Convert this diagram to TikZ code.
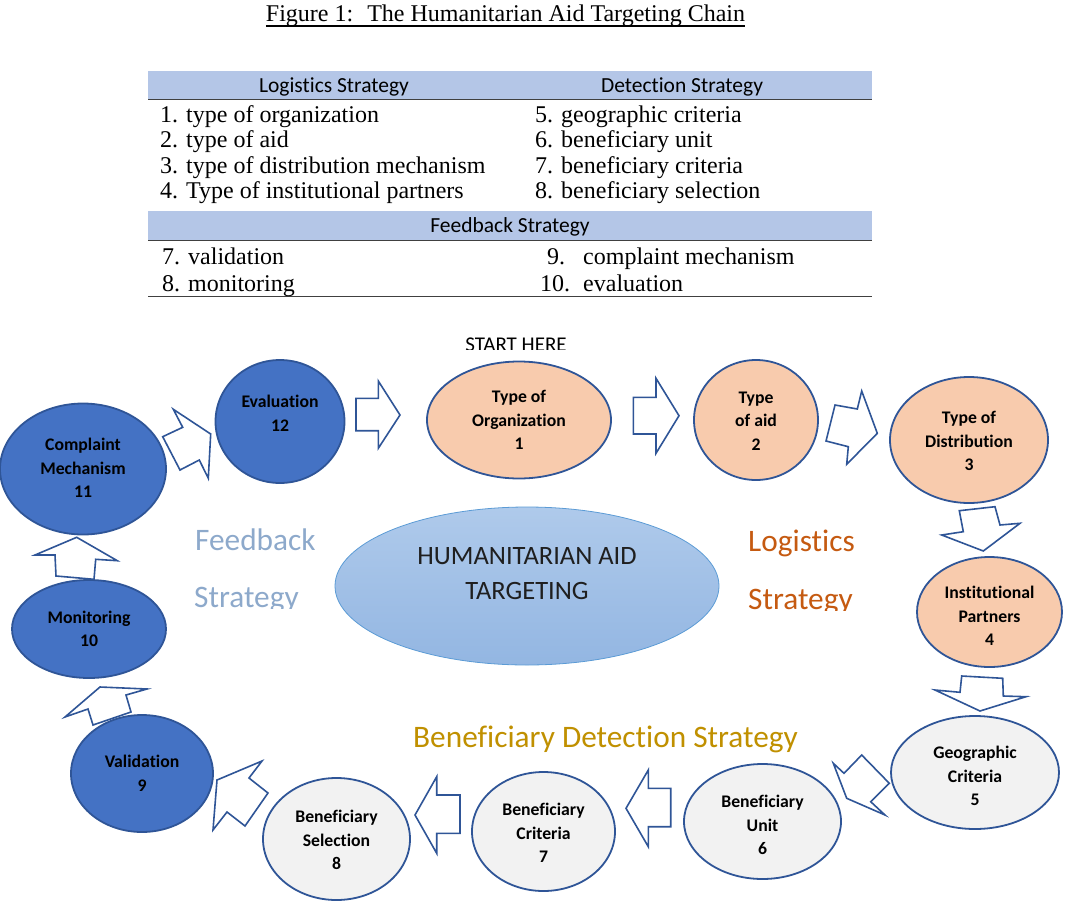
\documentclass[tikz,border=0pt]{standalone}
\usepackage{fontspec}
\setmainfont{Liberation Serif}
\newfontfamily\calfont[Ligatures=NoCommon]{Carlito}
\usetikzlibrary{shapes.geometric}
\definecolor{bord}{HTML}{2F5597}
\definecolor{orgF}{HTML}{F8CBAD}
\definecolor{bluF}{HTML}{4472C4}
\definecolor{gryF}{HTML}{F2F2F2}
\definecolor{hubT}{HTML}{AFCAEB}
\definecolor{hubB}{HTML}{93B6E2}
\definecolor{hubD}{HTML}{5B9BD5}
\definecolor{hdr}{HTML}{B4C6E7}
\definecolor{fbC}{HTML}{8DA9CB}
\definecolor{lgC}{HTML}{C55A11}
\definecolor{bdC}{HTML}{C09000}
\newcommand{\mkbub}[8]{%
  \node[#2, minimum width=#5pt, minimum height=#6pt] (#1) at (#3,#4) {};
  \node[ntext] (#1t) at (#3,#7) {#8};}
\tikzset{
  bub/.style={ellipse, draw=bord, line width=1.8pt, inner sep=0pt},
  orng/.style={bub, fill=orgF},
  blu/.style={bub, fill=bluF},
  gry/.style={bub, fill=gryF},
  ntext/.style={font=\calfont\bfseries\fontsize{17.7}{23.5}\selectfont, align=center, inner sep=0pt, text=black},
  barrow/.style={draw=bord, line width=1.6pt, fill=white, line join=miter},
  ttext/.style={font=\fontsize{24}{25}\selectfont, anchor=base west, inner sep=0pt},
  htext/.style={font=\calfont\fontsize{21.5}{24}\selectfont, anchor=base, inner sep=0pt},
  bigtext/.style={font=\calfont\fontsize{31.3}{36}\selectfont, anchor=base west, inner sep=0pt},
  tline/.style={draw=black!75, line width=1pt},
}
\begin{document}
\begin{tikzpicture}[x=1pt,y=-1pt]
\useasboundingbox (0,0) rectangle (1068,905);
% title
\node[font=\fontsize{24}{28}\selectfont, anchor=base, inner sep=0pt] (title) at (505.5,21) {Figure 1:~ The Humanitarian Aid Targeting Chain};
\draw[line width=1.3pt] ([yshift=-5pt]title.base west) -- ([yshift=-5pt]title.base east);
% table
\fill[hdr] (148,71) rectangle (872,99);
\draw[tline] (148,99) -- (872,99);
\fill[hdr] (148,211) rectangle (872,240);
\draw[tline] (148,240) -- (872,240);
\draw[tline] (148,296) -- (872,296);
\node[htext] (h1) at (334,92) {Logistics Strategy};
\node[htext] (h2) at (682,92) {Detection Strategy};
\node[htext] (h3) at (510,232) {Feedback Strategy};
\node[ttext] (r1) at (160,122) {1. type of organization};
\node[ttext] (r2) at (160,147) {2. type of aid};
\node[ttext] (r3) at (160,173) {3. type of distribution mechanism};
\node[ttext] (r4) at (160,198) {4. Type of institutional partners};
\node[ttext] (r5) at (535,122) {5. geographic criteria};
\node[ttext] (r6) at (535,147) {6. beneficiary unit};
\node[ttext] (r7) at (535,173) {7. beneficiary criteria};
\node[ttext] (r8) at (535,198) {8. beneficiary selection};
\node[ttext] (f1) at (162,264) {7. validation};
\node[ttext] (f2) at (162,291) {8. monitoring};
\node[ttext] (f3n) at (547,264) {9.};
\node[ttext] (f3) at (583,264) {complaint mechanism};
\node[ttext] (f4n) at (540,291) {10.};
\node[ttext] (f4) at (583,291) {evaluation};
% start here (clipped)
\begin{scope}
\clip (400,320) rectangle (640,349.5);
\node[font=\calfont\fontsize{21}{24}\selectfont, anchor=base, inner sep=0pt] (start) at (516,351) {START HERE};
\end{scope}
% strategy labels
\node[bigtext, text=fbC] (fb1) at (195,550) {Feedback};
\begin{scope}
\clip (180,570) rectangle (330,608.5);
\node[bigtext, text=fbC] (fb2) at (194,607) {Strategy};
\end{scope}
\node[bigtext, text=lgC] (lg1) at (748,551) {Logistics};
\begin{scope}
\clip (730,570) rectangle (880,610);
\node[bigtext, text=lgC] (lg2) at (748,609) {Strategy};
\end{scope}
\node[bigtext, text=bdC] (bd) at (413,747) {Beneficiary Detection Strategy};
% hub
\node[ellipse, minimum width=384pt, minimum height=158pt, top color=hubT, bottom color=hubB, draw=hubD, line width=0.8pt, inner sep=0pt] (hub) at (527,586) {};
\node[font=\calfont\fontsize{26.5}{35}\selectfont, anchor=base, inner sep=0pt, text=black!88] (hubt1) at (527,564) {HUMANITARIAN AID};
\node[font=\calfont\fontsize{26.5}{35}\selectfont, anchor=base, inner sep=0pt, text=black!88] (hubt2) at (527,599) {TARGETING};
% bubbles
\mkbub{n1}{orng}{519}{420}{184}{117}{420}{Type of\\Organization\\1}
\mkbub{n2}{orng}{756}{420}{124}{120}{421}{Type\\of aid\\2}
\mkbub{n3}{orng}{969}{440}{158}{126}{441}{Type of\\Distribution\\3}
\mkbub{n4}{orng}{989.5}{612}{145}{110}{616}{Institutional\\Partners\\4}
\mkbub{n5}{gry}{975}{772.5}{168}{113}{776}{Geographic\\Criteria\\5}
\mkbub{n6}{gry}{762.5}{821.5}{157}{115}{825}{Beneficiary\\Unit\\6}
\mkbub{n7}{gry}{543.5}{831.5}{143}{119}{833}{Beneficiary\\Criteria\\7}
\mkbub{n8}{gry}{336.5}{839}{147}{122}{840}{Beneficiary\\Selection\\8}
\mkbub{n9}{blu}{142}{773.5}{142}{117}{773.5}{Validation\\9}
\mkbub{n10}{blu}{89}{629}{154}{98}{629}{Monitoring\\10}
\mkbub{n11}{blu}{83}{469}{166}{131}{468}{Complaint\\Mechanism\\11}
\mkbub{n12}{blu}{280}{421.5}{129}{123}{413.5}{Evaluation\\12}
% block arrows
\draw[barrow] (356,398.3) -- (378.3,398.3) -- (378.3,381) -- (400,415) -- (378.3,448.3) -- (378.3,430.7) -- (356,430.7) -- cycle;
\draw[barrow] (633.3,397.3) -- (656,397.3) -- (656,378.3) -- (679,415.7) -- (656,453.3) -- (656,434) -- (633.3,434) -- cycle;
\draw[barrow] (835,405) -- (857.3,409) -- (861.7,391) -- (877.3,433.3) -- (846.7,464.3) -- (848.3,446.7) -- (826,441) -- cycle;
\draw[barrow] (959.3,510.7) -- (995,506.7) -- (1000,525) -- (1020,523.3) -- (983.3,551) -- (941.7,535) -- (963.3,531.7) -- cycle;
\draw[barrow] (961.7,676) -- (1002.7,678.3) -- (1003.3,696) -- (1026,696.7) -- (980,711) -- (935,690) -- (960,692.3) -- cycle;
\draw[barrow] (833.3,763.3) -- (844,773.3) -- (861.7,755) -- (889.3,783.3) -- (870.7,801.7) -- (885,815) -- (846.7,798.3) -- cycle;
\draw[barrow] (626,808.3) -- (648.3,770) -- (648.3,788.3) -- (670.7,788.3) -- (670.7,826.7) -- (648.3,826.7) -- (648.3,846.7) -- cycle;
\draw[barrow] (415,815) -- (436.7,776.7) -- (436.7,795) -- (460,795) -- (460,833.3) -- (436.7,833.3) -- (436.7,853.3) -- cycle;
\draw[barrow] (213,830) -- (217,780) -- (262,761) -- (249,778) -- (268,793) -- (245,826) -- (227,812) -- cycle;
\draw[barrow] (65,717) -- (100,687) -- (147,689) -- (126,695) -- (131,712) -- (93,725) -- (88,709) -- cycle;
\draw[barrow] (35,555) -- (76.7,537.3) -- (117.3,560.7) -- (95.7,559.3) -- (94,579.3) -- (56,576) -- (55,555) -- cycle;
\draw[barrow] (162.7,436.7) -- (182.7,427.3) -- (173.3,409.3) -- (210.7,434) -- (208.3,478.3) -- (199.3,460) -- (180,470) -- cycle;
\end{tikzpicture}
\end{document}
